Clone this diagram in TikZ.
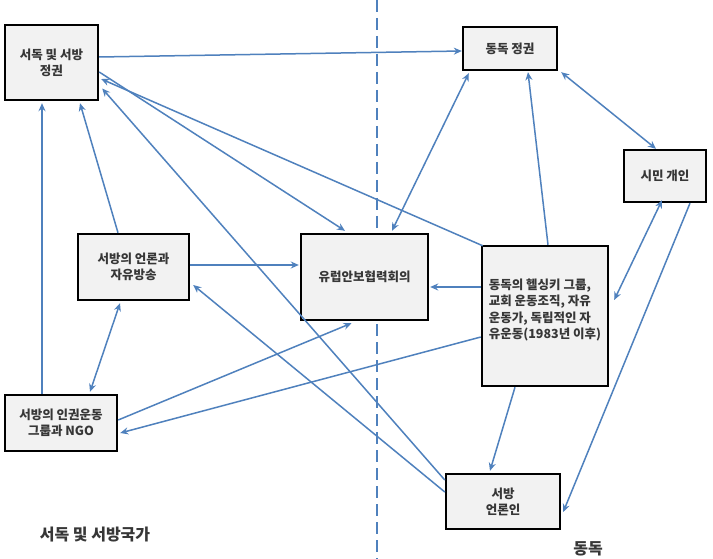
\documentclass[tikz,border=0pt]{standalone}
\usepackage{fontspec}
\setmainfont{Noto Sans CJK KR}
\usetikzlibrary{arrows.meta}
\definecolor{arr}{RGB}{79,129,189}
\definecolor{boxfill}{RGB}{242,242,242}
\definecolor{txt}{RGB}{55,55,55}
\begin{document}
\begin{tikzpicture}[x=1pt,y=-1pt,
  box/.style={draw=black,line width=2.4pt,fill=boxfill,inner sep=0pt,align=center,
    text=txt,font=\fontsize{12.5}{16}\selectfont\bfseries},
  con/.style={draw=arr,line width=1.5pt,-{Stealth[length=8pt,width=7pt]}},
  bicon/.style={draw=arr,line width=1.5pt,{Stealth[length=8pt,width=7pt]}-{Stealth[length=8pt,width=7pt]}},
  lbl/.style={text=txt,font=\fontsize{16}{18}\selectfont\bfseries,inner sep=0pt}]
\useasboundingbox (0,0) rectangle (713,559);
\fill[white] (0,0) rectangle (713,559);
% divider
\coordinate (dtop) at (377,0);
\coordinate (dbot) at (377,559);
\draw[arr,line width=2.4pt,dash pattern=on 12pt off 6pt] (dtop) -- (dbot);
% boxes
\node[box,minimum width=93pt,minimum height=75pt] (A) at (51.5,62.5) {서독 및 서방\\정권};
\node[box,minimum width=94pt,minimum height=43pt] (B) at (510,48.5) {동독 정권};
\node[box,minimum width=82pt,minimum height=52pt] (C) at (665,176) {시민 개인};
\node[box,minimum width=111pt,minimum height=66pt] (D) at (133.5,267) {서방의 언론과\\자유방송};
\node[box,minimum width=127pt,minimum height=86pt] (E) at (364.5,277) {유럽안보협력회의};
\node[box,minimum width=126pt,minimum height=140pt] (F) at (545,316) {};
\node[text=txt,font=\fontsize{12.5}{16.5}\selectfont\bfseries,align=left,inner sep=0pt] (Ft) at (545,310) {동독의 헬싱키 그룹,\\교회 운동조직, 자유\\운동가, 독립적인 자\\유운동(1983년 이후)};
\node[box,minimum width=112pt,minimum height=56pt] (G) at (61,423) {서방의 인권운동\\그룹과 NGO};
\node[box,minimum width=114pt,minimum height=55pt] (H) at (503,501.5) {서방\\언론인};
% labels
\node[lbl] (L1) at (95,535) {서독 및 서방국가};
\node[lbl] (L2) at (588,549) {동독};
% connectors
\draw[con] ([yshift=5.5pt]A.east) -- ([yshift=-2.5pt]B.west);
\draw[bicon] ([xshift=3pt,yshift=-1pt]B.south east) -- ([xshift=-9pt]C.north);
\draw[bicon] ([xshift=-3pt,yshift=3pt]C.south) -- ([xshift=5pt,yshift=16pt]F.east);
\draw[con] ([xshift=25pt]C.south) -- ([xshift=2pt,yshift=-10.5pt]H.east);
\draw[con] ([xshift=3pt]F.north) -- ([xshift=18pt,yshift=-1pt]B.south);
\draw[con] ([yshift=29pt]F.west) -- ([xshift=1pt,yshift=-10pt]E.east);
\draw[con] ([xshift=2pt,yshift=-1pt]F.north west) -- ([xshift=2pt,yshift=-16.5pt]A.east);
\draw[con] ([yshift=-21pt]F.west) -- ([xshift=2pt,yshift=-10pt]G.east);
\draw[con] ([yshift=3pt]G.east) -- ([xshift=-13pt,yshift=-2pt]E.south);
\draw[con] ([xshift=-19pt]G.north) -- ([xshift=-9.5pt,yshift=-2pt]A.south);
\draw[con] ([xshift=-15.5pt]D.north) -- ([xshift=28.5pt,yshift=-2pt]A.south);
\draw[bicon] ([xshift=29pt,yshift=2pt]G.north) -- ([xshift=-13.5pt,yshift=-2pt]D.south);
\draw[con] ([yshift=-9.5pt]A.east) -- ([xshift=-19.5pt,yshift=2pt]E.north);
\draw[con] ([yshift=21.5pt]H.west) -- ([xshift=3pt,yshift=-26pt]A.east);
\draw[con] ([yshift=9.5pt]H.west) -- ([xshift=3pt,yshift=-18pt]D.east);
\draw[bicon] ([xshift=27.5pt,yshift=2pt]E.north) -- ([xshift=7pt,yshift=-2pt]B.south west);
\draw[con] ([xshift=-30pt]F.south) -- ([xshift=-13pt,yshift=2pt]H.north);
\draw[con] ([yshift=2pt]D.east) -- ([yshift=12pt,xshift=-1pt]E.west);
\end{tikzpicture}
\end{document}
